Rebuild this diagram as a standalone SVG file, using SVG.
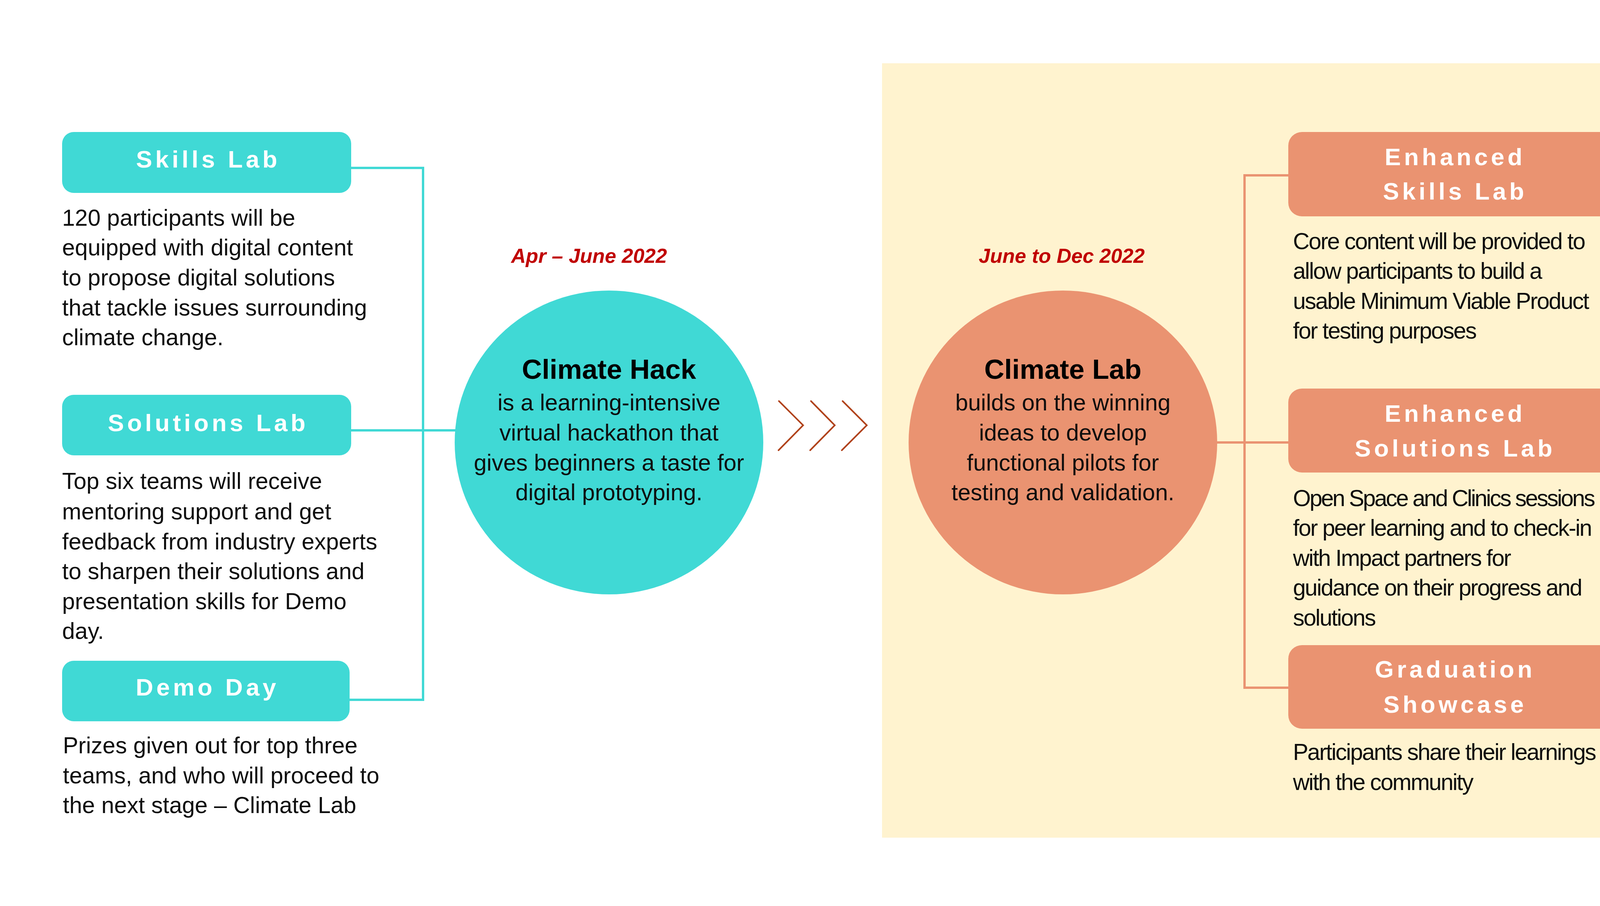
<svg xmlns="http://www.w3.org/2000/svg" width="4311" height="2320" viewBox="0 0 4311 2320">
<style>
.body{font-family:"Liberation Sans",Arial,sans-serif;font-size:59px;fill:#0d0d0d}
.tight{letter-spacing:-2.5px}
.tighter{letter-spacing:-3.5px}
.ctr{text-anchor:middle}
.title{font-family:"Liberation Sans",Arial,sans-serif;font-size:62px;font-weight:bold;fill:#ffffff;letter-spacing:8px;text-anchor:middle}
.head{font-family:"Liberation Sans",Arial,sans-serif;font-size:71px;font-weight:bold;fill:#000;text-anchor:middle}
.date{font-family:"Liberation Sans",Arial,sans-serif;font-size:52px;font-weight:bold;font-style:italic;fill:#c00000;text-anchor:middle}
.teal{fill:#40d9d5}
.salmon{fill:#ea9371}
.tline{stroke:#40d9d5;stroke-width:6;fill:none}
.sline{stroke:#ea9371;stroke-width:6;fill:none}
.chev{stroke:#b0421a;stroke-width:4;fill:none;stroke-linecap:round;stroke-linejoin:miter}
</style>
<rect width="4311" height="2320" fill="#ffffff"/>
<rect id="panel" x="2258" y="162" width="1937" height="1983" fill="#fff3cf"/>

<g id="connectors">
<polyline class="tline" points="899,430 1083,430 1083,1792 895,1792"/>
<line class="tline" x1="899" y1="1102" x2="1170" y2="1102"/>
<polyline class="sline" points="3298,449 3186,449 3186,1761 3298,1761"/>
<line class="sline" x1="3110" y1="1133" x2="3298" y2="1133"/>
</g>

<g id="skills-lab">
<rect class="teal" x="159" y="338" width="740" height="156" rx="30"/>
<text class="title" x="533" y="429">Skills Lab</text>
<text class="body" x="159" y="578">120 participants will be</text>
<text class="body" x="159" y="654">equipped with digital content</text>
<text class="body" x="159" y="731">to propose digital solutions</text>
<text class="body" x="159" y="808">that tackle issues surrounding</text>
<text class="body" x="159" y="884">climate change.</text>
</g>

<g id="solutions-lab">
<rect class="teal" x="159" y="1011" width="740" height="155" rx="30"/>
<text class="title" x="533" y="1104">Solutions Lab</text>
<text class="body" x="159" y="1252">Top six teams will receive</text>
<text class="body" x="159" y="1330">mentoring support and get</text>
<text class="body" x="159" y="1407">feedback from industry experts</text>
<text class="body" x="159" y="1483">to sharpen their solutions and</text>
<text class="body" x="159" y="1560">presentation skills for Demo</text>
<text class="body" x="159" y="1636">day.</text>
</g>

<g id="demo-day">
<rect class="teal" x="159" y="1692" width="736" height="155" rx="30"/>
<text class="title" x="531" y="1781">Demo Day</text>
<text class="body" x="161" y="1929">Prizes given out for top three</text>
<text class="body" x="161" y="2006">teams, and who will proceed to</text>
<text class="body" x="161" y="2082">the next stage – Climate Lab</text>
</g>

<g id="climate-hack">
<text class="date" x="1508" y="673">Apr – June 2022</text>
<ellipse class="teal" cx="1559" cy="1133" rx="395" ry="389"/>
<text class="head" x="1559" y="970">Climate Hack</text>
<text class="body ctr" x="1559" y="1051">is a learning-intensive</text>
<text class="body ctr" x="1559" y="1128">virtual hackathon that</text>
<text class="body ctr" x="1559" y="1205">gives beginners a taste for</text>
<text class="body ctr" x="1559" y="1281">digital prototyping.</text>
</g>

<g id="chevrons">
<polyline class="chev" points="1994,1027 2056,1089 1993,1153"/>
<polyline class="chev" points="2076,1027 2137,1089 2074,1153"/>
<polyline class="chev" points="2157,1027 2219,1089 2155,1153"/>
</g>

<g id="climate-lab">
<text class="date" x="2718" y="673">June to Dec 2022</text>
<ellipse class="salmon" cx="2721" cy="1133" rx="395" ry="389"/>
<text class="head" x="2721" y="970">Climate Lab</text>
<text class="body ctr" x="2721" y="1051">builds on the winning</text>
<text class="body ctr" x="2721" y="1128">ideas to develop</text>
<text class="body ctr" x="2721" y="1205">functional pilots for</text>
<text class="body ctr" x="2721" y="1281">testing and validation.</text>
</g>

<g id="enhanced-skills-lab">
<rect class="salmon" x="3298" y="338" width="846" height="216" rx="35"/>
<text class="title" x="3725" y="423">Enhanced</text>
<text class="title" x="3725" y="511">Skills Lab</text>
<text class="body tight" x="3310" y="638">Core content will be provided to</text>
<text class="body tight" x="3310" y="714">allow participants to build a</text>
<text class="body tight" x="3310" y="791">usable Minimum Viable Product</text>
<text class="body tight" x="3310" y="867">for testing purposes</text>
</g>

<g id="enhanced-solutions-lab">
<rect class="salmon" x="3298" y="995" width="846" height="215" rx="35"/>
<text class="title" x="3725" y="1080">Enhanced</text>
<text class="title" x="3725" y="1169">Solutions Lab</text>
<text class="body tighter" x="3310" y="1296">Open Space and Clinics sessions</text>
<text class="body tight" x="3310" y="1372">for peer learning and to check-in</text>
<text class="body tight" x="3310" y="1449">with Impact partners for</text>
<text class="body tight" x="3310" y="1525">guidance on their progress and</text>
<text class="body tight" x="3310" y="1602">solutions</text>
</g>

<g id="graduation-showcase">
<rect class="salmon" x="3298" y="1652" width="846" height="214" rx="35"/>
<text class="title" x="3725" y="1735">Graduation</text>
<text class="title" x="3725" y="1825">Showcase</text>
<text class="body tight" x="3310" y="1946">Participants share their learnings</text>
<text class="body tight" x="3310" y="2023">with the community</text>
</g>
</svg>
